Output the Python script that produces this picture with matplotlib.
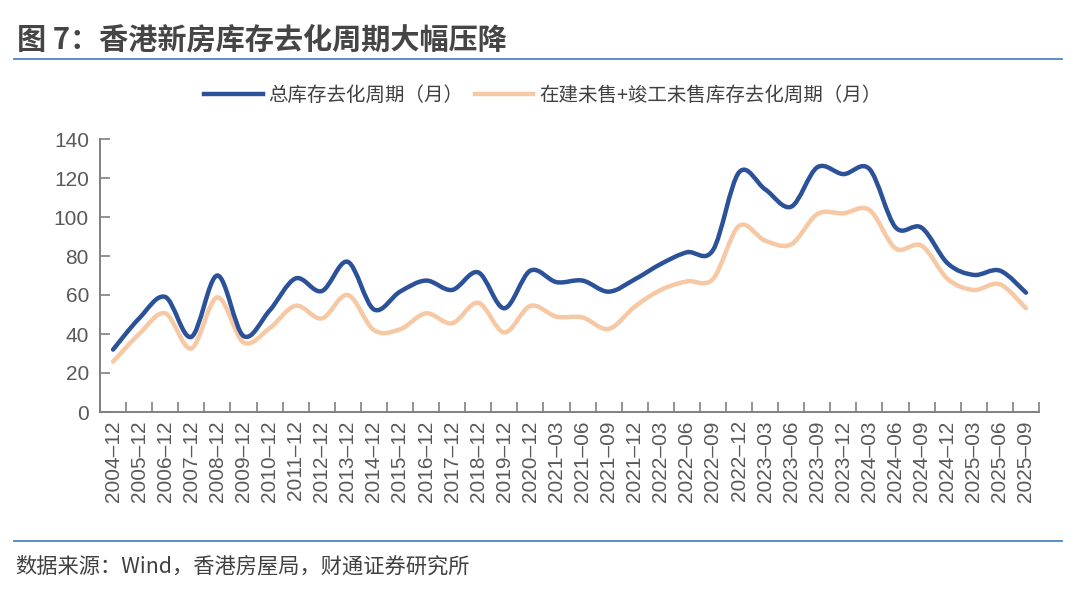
import matplotlib
matplotlib.use('Agg')
import matplotlib.pyplot as plt
from matplotlib.path import Path
from matplotlib.patches import PathPatch
from matplotlib.lines import Line2D

plt.rcParams['font.family'] = ['Noto Sans CJK SC', 'DejaVu Sans']

# x categories
periods = [f'{y}–12' for y in range(2004, 2021)] + [
    '2021–03', '2021–06', '2021–09', '2021–12',
    '2022–03', '2022–06', '2022–09', '2022–12',
    '2023–03', '2023–06', '2023–09', '2023–12',
    '2024–03', '2024–06', '2024–09', '2024–12',
    '2025–03', '2025–06', '2025–09',
]

# 总库存去化周期（月）
total_months = [32, 48, 59, 38.5, 70, 39, 52, 68.5, 62, 77, 52.6, 61.7, 67.4, 62.6,
                71.6, 53.2, 72.5, 66.6, 67.4, 61.7, 68, 75.9, 81.9, 83, 122.9, 114.2,
                105.3, 125.5, 122, 124.6, 94.7, 94.5, 76.2, 70.3, 72.5, 61.2]
# 在建未售+竣工未售库存去化周期（月）
unsold_months = [25.8, 40, 50.6, 32.6, 58.8, 35.7, 42.9, 54.5, 48, 60, 42, 42.4, 50.6,
                 45.5, 56, 40.8, 54.4, 48.9, 48.5, 42.6, 54, 62.6, 67, 68.2, 95.4, 87.9,
                 86, 101.5, 101.9, 103.6, 83.9, 85.3, 68.2, 62.6, 65.5, 53.2]

labels = ['总库存去化周期（月）', '在建未售+竣工未售库存去化周期（月）']
colors = ['#2b5198', '#f6c8a4']


def smooth_path(xs, ys):
    # Catmull-Rom style bezier, like Excel's smoothed line
    pts = list(zip(xs, ys))
    n = len(pts)
    verts = [pts[0]]
    codes = [Path.MOVETO]
    for i in range(n - 1):
        p0 = pts[max(i - 1, 0)]
        p1 = pts[i]
        p2 = pts[i + 1]
        p3 = pts[min(i + 2, n - 1)]
        c1 = (p1[0] + (p2[0] - p0[0]) / 6, p1[1] + (p2[1] - p0[1]) / 6)
        c2 = (p2[0] - (p3[0] - p1[0]) / 6, p2[1] - (p3[1] - p1[1]) / 6)
        verts += [c1, c2, p2]
        codes += [Path.CURVE4] * 3
    return Path(verts, codes)


fig = plt.figure(figsize=(10.8, 5.92), dpi=100)
ax = fig.add_axes([100 / 1080, 1 - 412 / 592, 939 / 1080, 273 / 592])

xs = list(range(len(periods)))
for series, color in zip([unsold_months, total_months], [colors[1], colors[0]]):
    ax.add_patch(PathPatch(smooth_path(xs, series), facecolor='none', edgecolor=color,
                           lw=3.2, capstyle='round', joinstyle='round'))

ax.set_xlim(-0.5, len(periods) - 0.5)
ax.set_ylim(0, 140)
ax.set_yticks(range(0, 141, 20))
ax.set_xticks(xs)
ax.set_xticklabels(periods, rotation=90, fontfamily='Liberation Sans', fontsize=15,
                   color='#595959')
ax.tick_params(axis='x', length=0, pad=6)
ax.set_xticks([x - 0.5 for x in xs] + [len(xs) - 0.5], minor=True)
ax.tick_params(axis='x', which='minor', direction='in', length=7, color='#808080', width=1.2)
ax.tick_params(axis='y', direction='in', length=7, color='#808080', width=1.2,
               labelsize=15, labelcolor='#595959', pad=8)
for lab in ax.get_yticklabels():
    lab.set_fontfamily('Liberation Sans')
for s in ['top', 'right']:
    ax.spines[s].set_visible(False)
for s in ['left', 'bottom']:
    ax.spines[s].set_color('#808080')
    ax.spines[s].set_linewidth(1.4)

handles = [Line2D([], [], color=c, lw=3.2) for c in colors]
fig.legend(handles, labels, loc='center', bbox_to_anchor=(543 / 1080, 1 - 95 / 592), ncol=2,
           frameon=False, fontsize=14, labelcolor='#404040', handlelength=3.0,
           handletextpad=0.3, columnspacing=0.6)

fig.text(17 / 1080, 1 - 40 / 592, '图 7：香港新房库存去化周期大幅压降', fontsize=21,
         fontweight='bold', color='#454545', va='center', ha='left')
fig.add_artist(Line2D([14 / 1080, 1062 / 1080], [1 - 59 / 592] * 2, color='#4a86c5', lw=1.3))
fig.add_artist(Line2D([14 / 1080, 1062 / 1080], [1 - 541 / 592] * 2, color='#4a86c5', lw=1.3))
fig.text(15 / 1080, 1 - 566 / 592, '数据来源：Wind，香港房屋局，财通证券研究所', fontsize=15.3,
         color='#404040', va='center', ha='left')

fig.savefig('out.png', dpi=100)
